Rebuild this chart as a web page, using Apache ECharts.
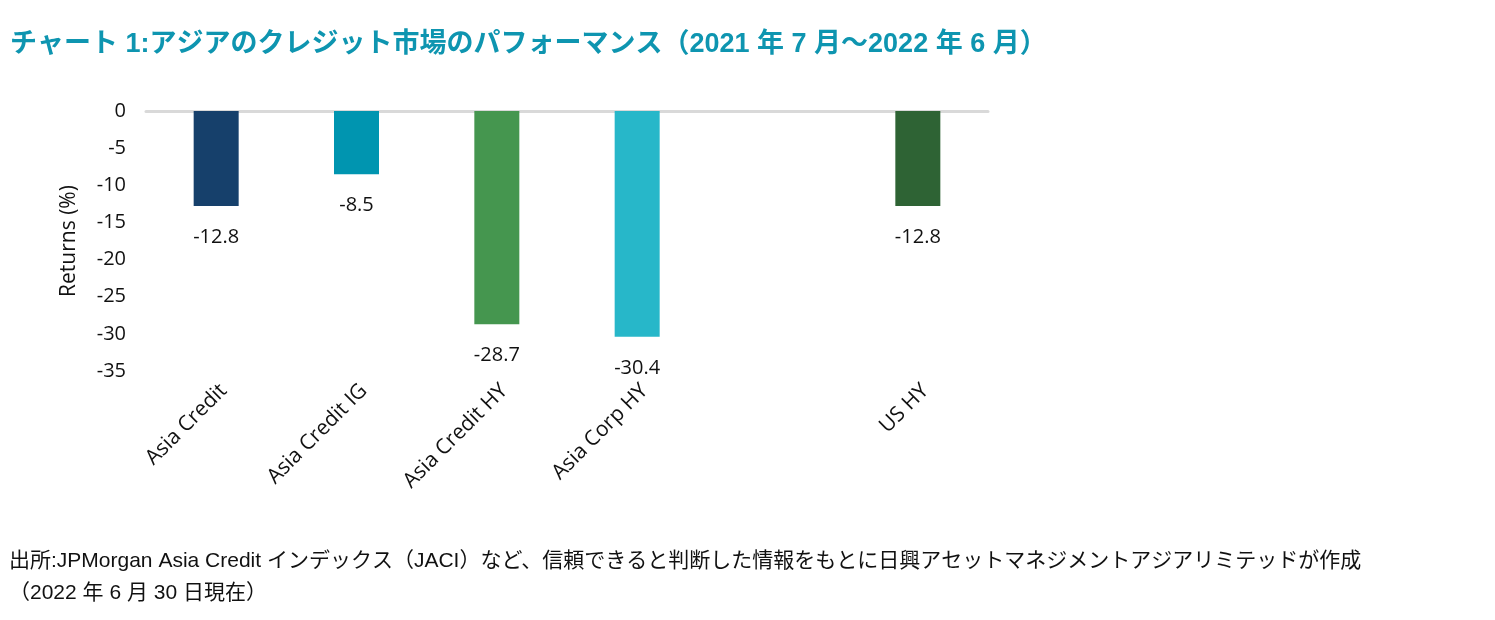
<!DOCTYPE html>
<html>
<head>
<meta charset="utf-8">
<script src="https://cdn.jsdelivr.net/npm/echarts@6/dist/echarts.min.js"></script>
<style>
  html, body { margin: 0; padding: 0; background: #fff; }
  #chart { width: 1495px; height: 620px; }
</style>
</head>
<body>
<div id="chart"></div>
<script>
const categories = ['Asia Credit', 'Asia Credit IG', 'Asia Credit HY', 'Asia Corp HY', '', 'US HY'];
const returns = [-12.8, -8.5, -28.7, -30.4, null, -12.8];
const barColors = ['#16406b', '#0095b0', '#45964f', '#27b7c9', '#ffffff', '#2e6334'];

const titleText = 'チャート 1:アジアのクレジット市場のパフォーマンス（2021 年 7 月～2022 年 6 月）';
const sourceLines = [
  '出所:JPMorgan Asia Credit インデックス（JACI）など、信頼できると判断した情報をもとに日興アセットマネジメントアジアリミテッドが作成',
  '（2022 年 6 月 30 日現在）'
];

const latin = '"Open Sans", "Noto Sans CJK JP", sans-serif';
const arial = '"Liberation Sans", Arial, "Noto Sans CJK JP", sans-serif';

const chart = echarts.init(document.getElementById('chart'));

const option = {
  animation: false,
  title: [
    {
      text: titleText,
      left: 5,
      top: 26,
      textStyle: { color: '#0e95b0', fontSize: 27, fontWeight: 'bold', fontFamily: arial }
    },
    {
      text: sourceLines.join('\n'),
      left: 4,
      top: 540,
      textStyle: { color: '#111', fontSize: 21, fontWeight: 'normal', fontFamily: arial, lineHeight: 32 }
    }
  ],
  grid: { left: 146, right: 507, top: 111, bottom: 249, containLabel: false },
  xAxis: [
    {
      type: 'category',
      data: categories,
      position: 'bottom',
      axisLine: { show: false, onZero: false },
      axisTick: { show: false },
      axisLabel: {
        rotate: 45,
        interval: 0,
        margin: 9,
        verticalAlign: 'top',
        color: '#111',
        fontSize: 21,
        fontFamily: latin
      }
    },
    {
      type: 'category',
      data: categories,
      position: 'top',
      axisLine: { show: true, lineStyle: { color: '#d9d9d9', width: 3 } },
      axisTick: { show: false },
      axisLabel: { show: false }
    }
  ],
  yAxis: {
    type: 'value',
    min: -35,
    max: 0,
    interval: 5,
    name: 'Returns (%)',
    nameLocation: 'middle',
    nameGap: 66,
    nameTextStyle: { color: '#111', fontSize: 21, fontFamily: latin },
    axisLine: { show: false },
    axisTick: { show: false },
    splitLine: { show: false },
    axisLabel: { color: '#111', fontSize: 20, fontFamily: latin, margin: 20 }
  },
  series: [
    {
      type: 'bar',
      barWidth: 45,
      data: returns.map((v, i) => ({ value: v, itemStyle: { color: barColors[i] } })),
      label: {
        show: true,
        position: 'bottom',
        distance: 21,
        color: '#111',
        fontSize: 20,
        fontFamily: latin,
        formatter: p => p.value.toFixed(1)
      }
    }
  ]
};

chart.setOption(option);
</script>
</body>
</html>
